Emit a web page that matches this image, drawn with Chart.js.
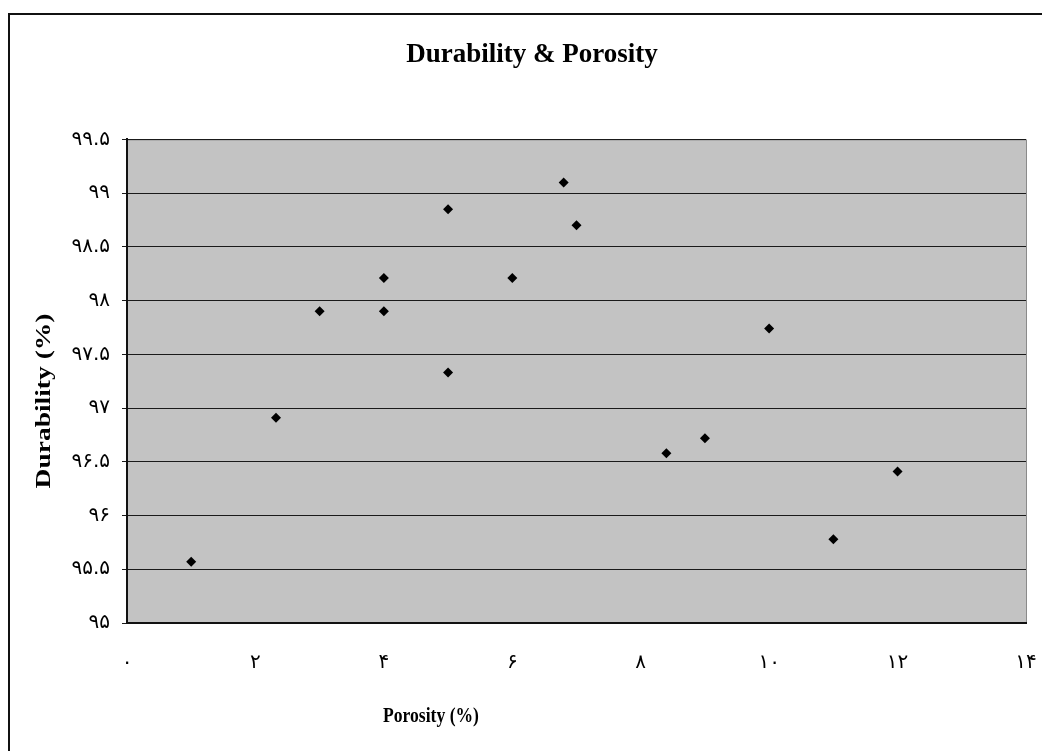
<!DOCTYPE html>
<html>
<head>
<meta charset="utf-8">
<script src="https://cdn.jsdelivr.net/npm/chart.js@4.4.1/dist/chart.umd.min.js"></script>
<style>
  body { margin: 0; background: #fff; }
  canvas { display: block; }
</style>
</head>
<body>
<canvas id="chart" width="1042" height="751"></canvas>
<script>
// data
const porosity = [1, 2.32, 3, 4, 4, 5, 5, 6, 6.8, 7, 8.4, 9, 10, 11, 12];
const durability = [95.57, 96.91, 97.9, 98.21, 97.9, 98.85, 97.33, 98.21, 99.1, 98.7, 96.58, 96.72, 97.74, 95.78, 96.41];

// persian tick labels
const xTickLabels = ['۰', '۲', '۴', '۶', '۸', '۱۰', '۱۲', '۱۴'];
const yTickLabels = ['۹۵', '۹۵.۵', '۹۶', '۹۶.۵', '۹۷', '۹۷.۵', '۹۸', '۹۸.۵', '۹۹', '۹۹.۵'];

const chartTitle = 'Durability & Porosity';
const xTitle = 'Porosity (%)';
const yTitle = 'Durability (%)';

const points = porosity.map((x, i) => ({ x: x, y: durability[i] }));

// grey plot area + outer frame
const plotBack = {
  id: 'plotBack',
  beforeDraw(chart) {
    const { ctx, chartArea: a } = chart;
    ctx.save();
    ctx.fillStyle = '#c3c3c3';
    ctx.fillRect(a.left, a.top, a.right - a.left, a.bottom - a.top);
    ctx.strokeStyle = '#8a8a8a';
    ctx.lineWidth = 1;
    ctx.strokeRect(a.left + 0.5, a.top + 0.5, a.right - a.left, a.bottom - a.top);
    // frame round the whole chart
    ctx.strokeStyle = '#111';
    ctx.lineWidth = 2;
    ctx.beginPath();
    ctx.moveTo(9, chart.height);
    ctx.lineTo(9, 14);
    ctx.lineTo(chart.width, 14);
    ctx.stroke();
    ctx.restore();
  }
};

// axis titles sit off-centre in the original, so draw them here
const axisTitles = {
  id: 'axisTitles',
  afterDraw(chart) {
    const { ctx } = chart;
    ctx.save();
    ctx.fillStyle = '#000';
    ctx.font = 'bold 22px "Liberation Serif"';
    ctx.textAlign = 'center';
    ctx.textBaseline = 'middle';

    ctx.save();
    ctx.translate(431, 716);
    ctx.scale(0.8, 1);
    ctx.fillText(xTitle, 0, 0);
    ctx.restore();

    ctx.save();
    ctx.translate(44, 401);
    ctx.rotate(-Math.PI / 2);
    ctx.scale(1.25, 1);
    ctx.fillText(yTitle, 0, 0);
    ctx.restore();

    ctx.restore();
  }
};

new Chart(document.getElementById('chart'), {
  type: 'scatter',
  data: {
    datasets: [{
      data: points,
      pointStyle: 'rectRot',
      pointRadius: 5,
      pointHoverRadius: 5,
      backgroundColor: '#000',
      borderColor: '#000',
      borderWidth: 0
    }]
  },
  options: {
    responsive: false,
    animation: false,
    layout: { padding: { left: 38, right: 16, top: 0, bottom: 0 } },
    plugins: {
      legend: { display: false },
      tooltip: { enabled: false },
      title: {
        display: true,
        text: chartTitle,
        color: '#000',
        font: { family: 'Liberation Serif', size: 27, weight: 'bold' },
        padding: { top: 39, bottom: 68 }
      }
    },
    scales: {
      x: {
        type: 'linear',
        min: 0,
        max: 14,
        afterFit: (s) => { s.height = 128; s.paddingLeft = 0; s.paddingRight = 0; },
        ticks: {
          stepSize: 2,
          color: '#000',
          padding: 28,
          maxRotation: 0,
          font: { family: 'DejaVu Sans', size: 20 },
          callback: (v, i) => xTickLabels[i]
        },
        grid: { display: false, drawTicks: false },
        border: { display: true, color: '#111', width: 2 }
      },
      y: {
        type: 'linear',
        min: 95,
        max: 99.5,
        afterFit: (s) => { s.width = 89; s.paddingTop = 0; s.paddingBottom = 0; },
        ticks: {
          stepSize: 0.5,
          color: '#000',
          padding: 12,
          font: { family: 'DejaVu Sans', size: 20 },
          callback: (v, i) => yTickLabels[i]
        },
        grid: { color: '#1a1a1a', lineWidth: 1, tickLength: 5, drawTicks: true },
        border: { display: true, color: '#111', width: 2 }
      }
    }
  },
  plugins: [plotBack, axisTitles]
});
</script>
</body>
</html>
